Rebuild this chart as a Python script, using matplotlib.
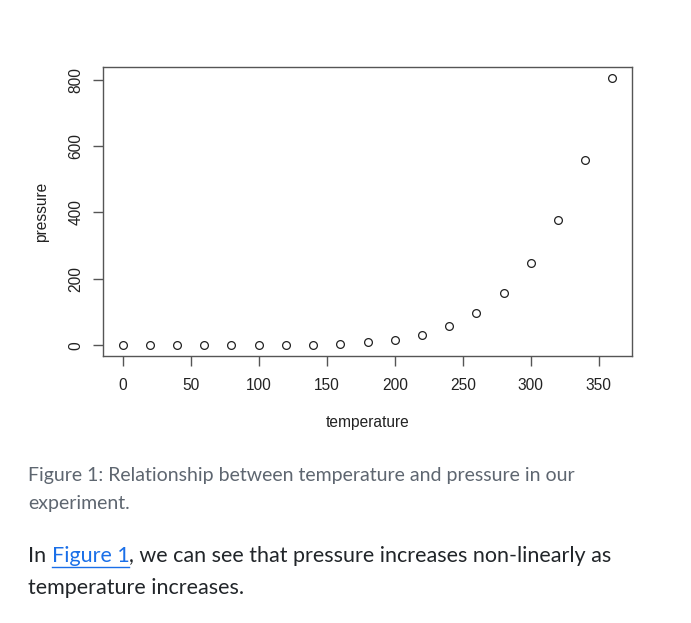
import matplotlib
matplotlib.use("Agg")
import matplotlib.pyplot as plt

# R's built-in "pressure" dataset
temperature = [0, 20, 40, 60, 80, 100, 120, 140, 160, 180,
               200, 220, 240, 260, 280, 300, 320, 340, 360]
pressure = [0.0002, 0.0012, 0.0060, 0.0300, 0.0900, 0.2700, 0.7500,
            1.8500, 4.2000, 8.8000, 17.3000, 32.1000, 57.0000, 96.0000,
            157.0000, 247.0000, 376.0000, 558.0000, 806.0000]
x_ticks = [0, 50, 100, 150, 200, 250, 300, 350]
y_ticks = [0, 200, 400, 600, 800]

caption_lines = ["Figure 1: Relationship between temperature and pressure in our",
                 "experiment."]
body_parts = [("In ", "#212529"), ("Figure 1", "#1a6fe8"),
              (", we can see that pressure increases non-linearly as", "#212529")]
body_line2 = "temperature increases."

W, H = 691, 623
fig = plt.figure(figsize=(W / 100, H / 100), dpi=100)
fig.patch.set_facecolor("white")

ax = fig.add_axes([103 / W, 1 - 356 / H, (632 - 103) / W, (356 - 67) / H])
ax.plot(temperature, pressure, "o", ms=5.6, mfc="none", mec="#222222", mew=0.9)

# R default axis extension: 4% on each side
xr = max(temperature) - min(temperature)
yr = max(pressure) - min(pressure)
ax.set_xlim(min(temperature) - 0.04 * xr, max(temperature) + 0.04 * xr)
ax.set_ylim(min(pressure) - 0.04 * yr, max(pressure) + 0.04 * yr)

for s in ax.spines.values():
    s.set_color("#555555"); s.set_linewidth(1.0)

plot_font = "Liberation Sans"
fs = 11.2
ax.set_xticks(x_ticks)
ax.set_yticks(y_ticks)
ax.set_xticklabels([str(t) for t in x_ticks], family=plot_font, fontsize=fs)
ax.set_yticklabels([str(t) for t in y_ticks], family=plot_font, fontsize=fs,
                   rotation=90, va="center")
ax.tick_params(direction="out", length=7, width=1.0, color="#555555",
               labelcolor="#222222")
ax.tick_params(axis="x", pad=9)
ax.tick_params(axis="y", pad=7)
ax.set_xlabel("temperature", family=plot_font, fontsize=fs, color="#222222",
              labelpad=16)
ax.set_ylabel("pressure", family=plot_font, fontsize=fs, color="#222222",
              labelpad=14)

# caption and body text below the figure
text_font = ["Lato", "DejaVu Sans"]
fig.text(28 / W, 1 - 475 / H, caption_lines[0], family=text_font, fontsize=14.0,
         color="#5e6670", va="center")
fig.text(28 / W, 1 - 503 / H, caption_lines[1], family=text_font, fontsize=14.0,
         color="#5e6670", va="center")

renderer = fig.canvas.get_renderer()
x_px = 28
y1 = 1 - 556 / H
for txt, col in body_parts:
    t = fig.text(x_px / W, y1, txt, family=text_font, fontsize=15.45, color=col,
                 va="center")
    bb = t.get_window_extent(renderer)
    if txt == "Figure 1":
        fig.add_artist(plt.Line2D([bb.x0 / W, bb.x1 / W],
                                  [(bb.y0 - 1) / H, (bb.y0 - 1) / H],
                                  color=col, lw=1.0))
    x_px = bb.x1
fig.text(28 / W, 1 - 588 / H, body_line2, family=text_font, fontsize=15.45,
         color="#212529", va="center")

fig.savefig("out.png", dpi=100)
